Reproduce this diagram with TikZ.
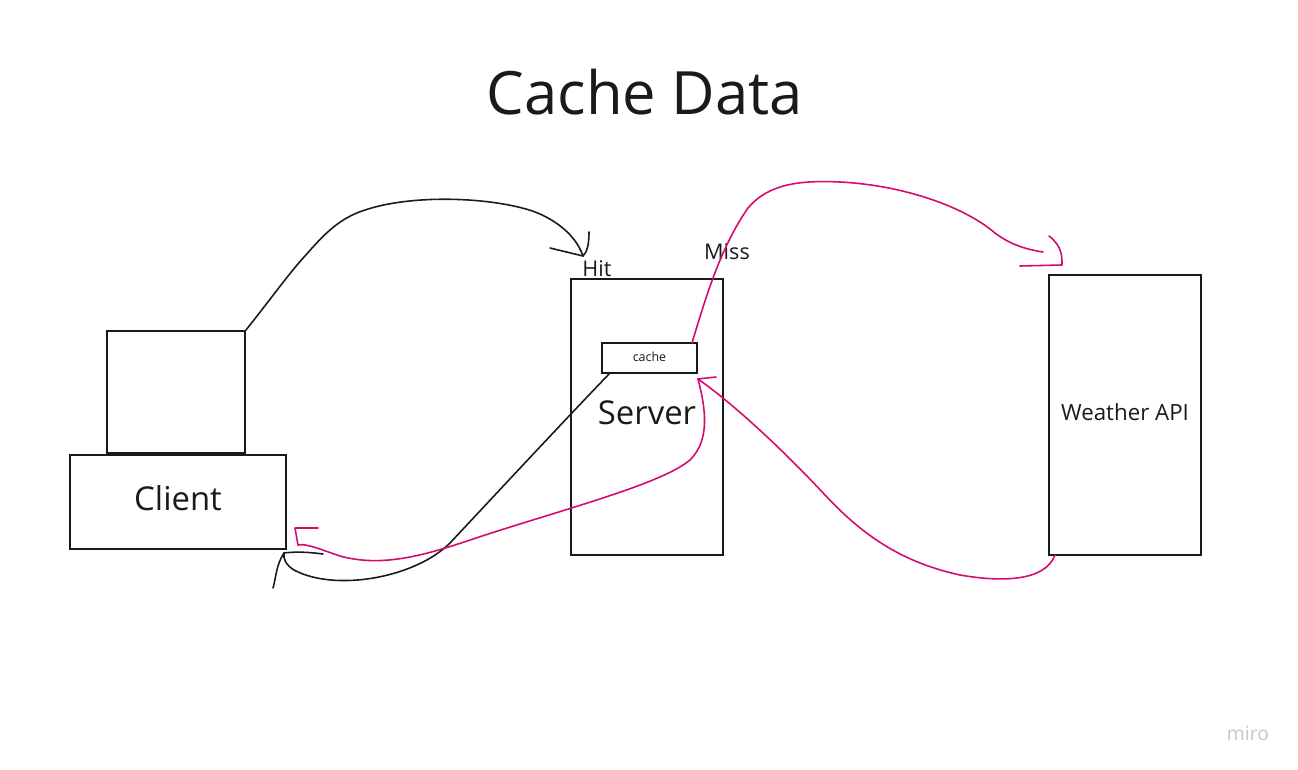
\documentclass[tikz,border=0pt]{standalone}
\usepackage{fontspec}
\setmainfont{Open Sans}
\definecolor{mpink}{RGB}{214,10,110}
\definecolor{ink}{RGB}{26,26,26}
\definecolor{logogrey}{RGB}{196,199,210}
\begin{document}
\begin{tikzpicture}[x=0.02cm,y=-0.02cm,
  box/.style={draw=ink,line width=1pt,inner sep=0pt,fill=white},
  blk/.style={draw=ink,line width=0.9pt,line cap=round,line join=round},
  pnk/.style={draw=mpink,line width=0.9pt,line cap=round,line join=round},
  lbl/.style={text=ink,inner sep=0pt}]
\useasboundingbox (0,0) rectangle (1298,770);
\fill[white] (0,0) rectangle (1298,770);

\node[lbl,font=\fontsize{34}{40}\selectfont] (title) at (645,92) {Cache Data};

\node[box,minimum width=2.76cm,minimum height=2.44cm] (ctop) at (176,392) {};
\node[box,minimum width=4.32cm,minimum height=1.88cm] (cbot) at (178,502) {};
\node[lbl,font=\fontsize{18.7}{22}\selectfont] (clienttxt) at (178,498) {Client};

\node[box,minimum width=3.04cm,minimum height=5.52cm] (server) at (647,417) {};
\node[lbl,font=\fontsize{18.7}{22}\selectfont] (servertxt) at (647,413) {Server};
\node[box,minimum width=1.90cm,minimum height=0.60cm] (cache) at (649.5,358) {};
\node[lbl,font=\fontsize{7.1}{9}\selectfont] (cachetxt) at (649.5,357) {cache};

\node[box,minimum width=3.04cm,minimum height=5.60cm] (wapi) at (1125,415) {};
\node[lbl,font=\fontsize{12.7}{15}\selectfont] (wapitxt) at (1125,412) {Weather API};

\node[lbl,font=\fontsize{12.3}{15}\selectfont] (hit) at (597,269) {Hit};
\node[lbl,font=\fontsize{12.3}{15}\selectfont] (miss) at (727,252) {Miss};

\node[text=logogrey,inner sep=0pt,font=\fontsize{11}{13}\selectfont] (miro) at (1248,733) {miro};

% coordinates
\coordinate (hitTip) at (583,256);
\coordinate (cliTip) at (284,553);
\coordinate (missStart) at (692,343);
\coordinate (missEnd) at (1043,252);
\coordinate (wStart) at (1055,555);
\coordinate (retTip) at (698,379);
\coordinate (pTip) at (298,545);

% black request curve
\path[blk] (ctop.north east) .. controls (270,300) and (290,272) .. (305,256)
  .. controls (325,233) and (340,218) .. (365,210)
  .. controls (410,195) and (480,197) .. (522,208)
  .. controls (548,214) and (575,232) .. (hitTip);
\path[blk] (550,248) -- (hitTip);
\path[blk] (589,232) .. controls (589,245) and (587,252) .. (hitTip);

% black response curve
\path[blk] (610,373) .. controls (560,425) and (495,495) .. (450,543)
  .. controls (415,578) and (335,592) .. (294,570)
  .. controls (286,565) and (283,559) .. (cliTip);
\path[blk] (cliTip) .. controls (300,551) and (315,553) .. (323,554);
\path[blk] (cliTip) .. controls (276,565) and (276,578) .. (273,588);

% pink miss curve
\path[pnk] (missStart) .. controls (705,300) and (720,248) .. (748,208)
  .. controls (768,184) and (800,180) .. (840,182)
  .. controls (900,185) and (962,205) .. (995,233)
  .. controls (1012,246) and (1030,250) .. (missEnd);
\path[pnk] (1049,236) .. controls (1062,246) and (1062,256) .. (1062,265) -- (1020,266);

% pink return from weather api
\path[pnk] (wStart) .. controls (1045,582) and (1000,582) .. (960,575)
  .. controls (905,563) and (865,538) .. (825,495)
  .. controls (785,452) and (735,405) .. (retTip);
\path[pnk] (retTip) -- (716,377);

% pink return to client
\path[pnk] (retTip) .. controls (706,410) and (710,440) .. (690,460)
  .. controls (660,485) and (560,510) .. (470,540)
  .. controls (420,557) and (380,567) .. (340,556)
  .. controls (322,550) and (306,543) .. (pTip);
\path[pnk] (pTip) -- (295,528) -- (318,528);
\end{tikzpicture}
\end{document}
